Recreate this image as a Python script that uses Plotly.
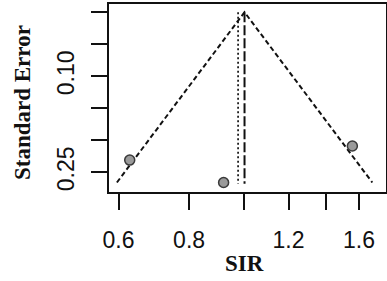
import plotly.graph_objects as go
import math

# Data
study_sir = [0.628, 0.921, 1.557]
study_se = [0.231, 0.266, 0.209]
pooled_sir = 1.003
alt_sir = 0.977
se_max = 0.268
funnel_x = [0.596, 1.003, 1.689]
funnel_se = [0.266, 0.0, 0.266]
x_tickvals = [0.6, 0.8, 1.0, 1.2, 1.4, 1.6]
x_ticktext = ["0.6", "0.8", "", "1.2", "", "1.6"]
y_tickvals = [0.0, 0.05, 0.10, 0.15, 0.20, 0.25]
y_ticktext = ["", "", "0.10", "", "", "0.25"]

fig = go.Figure()
fig.add_trace(go.Scatter(x=funnel_x, y=funnel_se, mode="lines",
                         line=dict(color="#111", width=2, dash="5px,3px"),
                         hoverinfo="skip", showlegend=False))
fig.add_trace(go.Scatter(x=[pooled_sir, pooled_sir], y=[0, se_max], mode="lines",
                         line=dict(color="#111", width=2, dash="10px,3px"),
                         showlegend=False))
fig.add_trace(go.Scatter(x=[alt_sir, alt_sir], y=[0, se_max], mode="lines",
                         line=dict(color="#111", width=1.7, dash="2px,2.5px"),
                         showlegend=False))
fig.add_trace(go.Scatter(x=study_sir, y=study_se, mode="markers",
                         marker=dict(size=10, color="#9a9a9a",
                                     line=dict(color="#3a3a3a", width=1.5)),
                         showlegend=False))

tickfont = dict(family="Liberation Sans, Arial, sans-serif", size=23, color="#111")
fig.update_xaxes(type="log", range=[math.log10(0.5771), math.log10(1.786)],
                 tickvals=x_tickvals, ticktext=x_ticktext, tickfont=tickfont,
                 ticks="outside", ticklen=16, tickwidth=1.5, tickcolor="#111",
                 showgrid=False, zeroline=False, showline=True, linecolor="#111",
                 linewidth=1.5, mirror=True, ticklabelstandoff=11, automargin=False)
fig.update_yaxes(range=[0.2808, -0.0128], tickvals=y_tickvals, ticktext=y_ticktext,
                 tickfont=tickfont, tickangle=-90,
                 ticks="outside", ticklen=16, tickwidth=1.5, tickcolor="#111",
                 showgrid=False, zeroline=False, showline=True, linecolor="#111",
                 linewidth=1.5, mirror=True, ticklabelstandoff=8, automargin=False)

titlefont = dict(family="Liberation Serif, Times New Roman, serif", size=23, color="#111")
fig.add_annotation(text="<b>SIR</b>", xref="paper", yref="paper", x=0.5, y=0,
                   xanchor="center", yanchor="middle", xshift=-3, yshift=-71,
                   showarrow=False, font=titlefont)
fig.add_annotation(text="<b>Standard Error</b>", xref="paper", yref="paper", x=0, y=0.5,
                   xanchor="center", yanchor="middle", xshift=-87, yshift=-5,
                   textangle=-90, showarrow=False, font=titlefont)

fig.update_layout(width=387, height=281, margin=dict(l=109, r=1, t=4, b=89),
                  plot_bgcolor="white", paper_bgcolor="white")
fig.write_html("out.html", config={"displayModeBar": False},
               post_script="document.body.style.margin='0';document.body.style.overflow='hidden';")
